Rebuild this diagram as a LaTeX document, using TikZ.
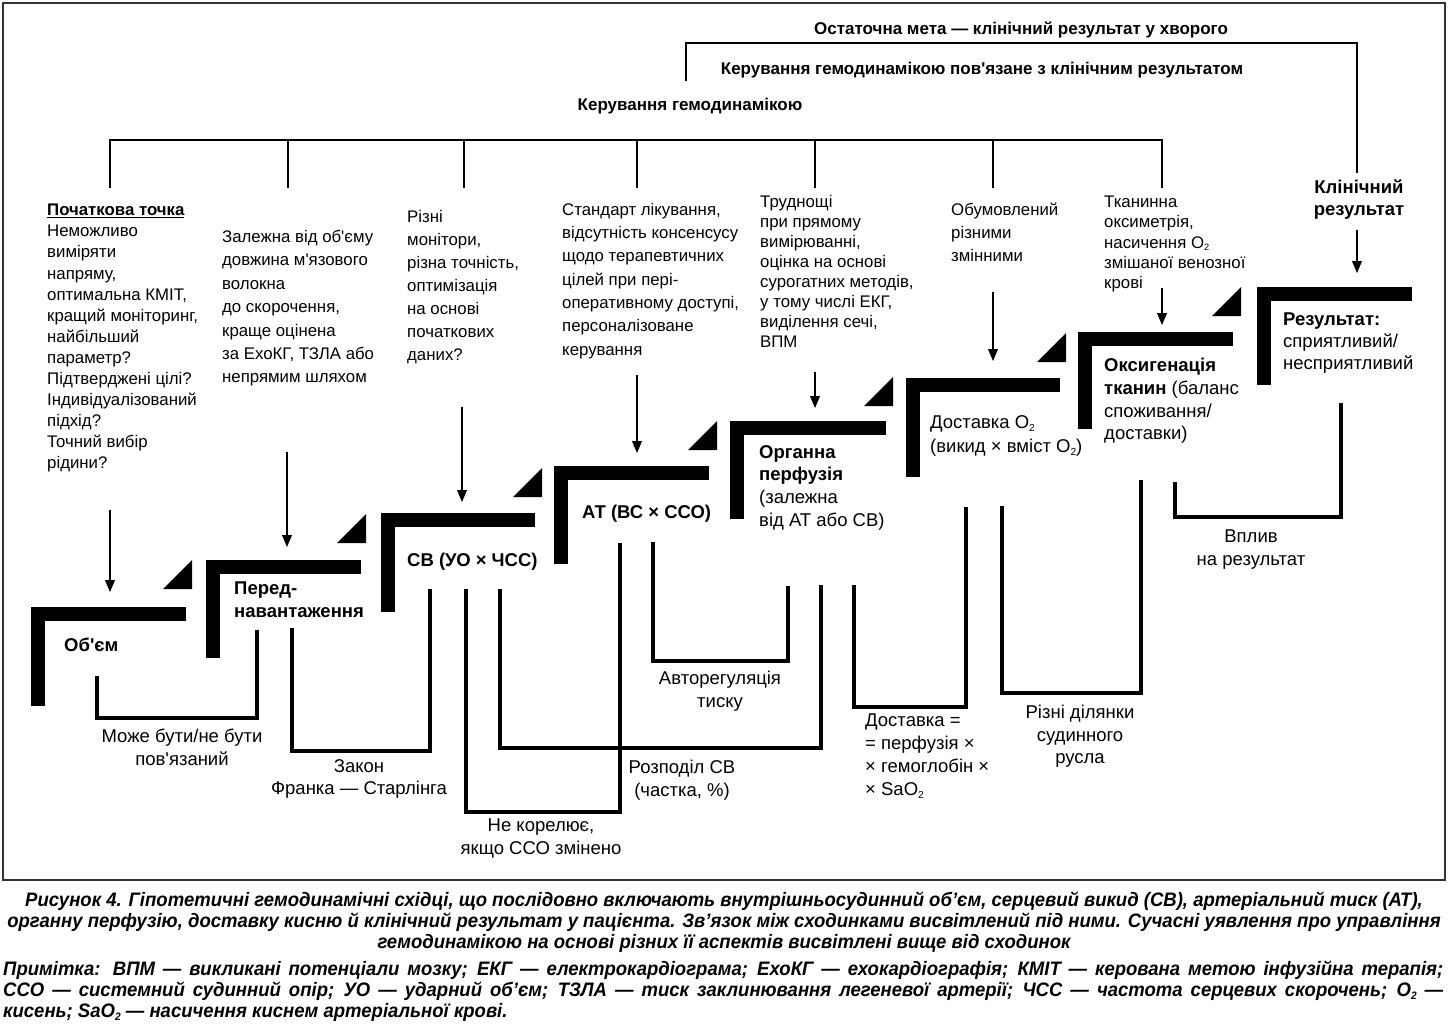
\documentclass[tikz,border=0pt]{standalone}
\usepackage{graphicx}
\usepackage{fontspec}
\setmainfont{Liberation Sans}
\newfontfamily\capfont[FakeStretch=0.95]{Liberation Sans}
\usetikzlibrary{arrows}
\newcommand{\apos}{\textquotesingle}
\newcommand{\subtwo}{\raisebox{-0.3ex}{\scalebox{0.55}{2}}}

\begin{document}
\begin{tikzpicture}[x=1pt,y=-1pt]

	\tikzstyle stair=[line width=14pt, line join=miter];
	\tikzstyle wedge=[fill=black];
	\tikzstyle top lines=[line width=2.6pt, line join=miter];
	\tikzstyle link lines=[line width=4pt, line join=miter];
	\tikzstyle arrow lines=[line width=1.8pt, -triangle 45];
	\tikzstyle col text=[anchor=north west, inner sep=0pt, align=left];
	\tikzstyle step text=[anchor=north west, inner sep=0pt, align=left, font=\fontsize{18.5}{22.7}\selectfont];
	\tikzstyle link text=[anchor=north, inner sep=0pt, align=center, font=\fontsize{18.5}{22.5}\selectfont];
	\tikzstyle head text=[inner sep=0pt, font=\fontsize{17}{20}\selectfont\bfseries];

	\useasboundingbox (0,0) rectangle (1448,1028);
	\draw[line width=1.2pt, black!80] (3,3) rectangle (1445,880);

	% headings above the stairs
	\node[head text] (goal) at (1021,30) {Остаточна мета — клінічний результат у хворого};
	\node[head text] (linked) at (982,70) {Керування гемодинамікою пов\apos{}язане з клінічним результатом};
	\node[head text] (manage) at (690,106) {Керування гемодинамікою};
	\draw[top lines] (686,81) -- (686,43) -- (1357,43) -- (1357,173);
	\draw[top lines] (110,188) -- (110,140) -- (1162,140) -- (1162,188);
	\draw[top lines] (288,140) -- (288,188);
	\draw[top lines] (464,140) -- (464,188);
	\draw[top lines] (637,140) -- (637,188);
	\draw[top lines] (815,140) -- (815,188);
	\draw[top lines] (993,140) -- (993,188);

	\node[col text, font=\fontsize{16.8}{21.1}\selectfont] (start) at (47,204) {\underline{\textbf{Початкова точка}}\\Неможливо\\виміряти\\напряму,\\оптимальна КМІТ,\\кращий моніторинг,\\найбільший\\параметр?\\Підтверджені цілі?\\Індивідуалізований\\підхід?\\Точний вибір\\рідини?};
	\node[col text, font=\fontsize{16.8}{23.4}\selectfont] (fibre) at (222,230) {Залежна від об\apos{}єму\\довжина м\apos{}язового\\волокна\\до скорочення,\\краще оцінена\\за ЕхоКГ, ТЗЛА або\\непрямим шляхом};
	\node[col text, font=\fontsize{16.8}{23}\selectfont] (monitors) at (407,210) {Різні\\монітори,\\різна точність,\\оптимізація\\на основі\\початкових\\даних?};
	\node[col text, font=\fontsize{16.8}{23.3}\selectfont] (standard) at (562,203) {Стандарт лікування,\\відсутність консенсусу\\щодо терапевтичних\\цілей при пері-\\оперативному доступі,\\персоналізоване\\керування};
	\node[col text, font=\fontsize{16.8}{20}\selectfont] (direct) at (760,195) {Труднощі\\при прямому\\вимірюванні,\\оцінка на основі\\сурогатних методів,\\у тому числі ЕКГ,\\виділення сечі,\\ВПМ};
	\node[col text, font=\fontsize{16.8}{23}\selectfont] (variables) at (951,203) {Обумовлений\\різними\\змінними};
	\node[col text, font=\fontsize{16.8}{20.2}\selectfont] (oximetry) at (1104,196) {Тканинна\\оксиметрія,\\насичення O\subtwo\\змішаної венозної\\крові};
	\node[anchor=north, inner sep=0pt, align=center, font=\fontsize{18.5}{22}\selectfont\bfseries] (clinical) at (1359,180) {Клінічний\\результат};

	\draw[arrow lines] (110,510) -- (110,592);
	\draw[arrow lines] (287,452) -- (287,547);
	\draw[arrow lines] (462,407) -- (462,502);
	\draw[arrow lines] (637,375) -- (637,453);
	\draw[arrow lines] (815,372) -- (815,408);
	\draw[arrow lines] (993,292) -- (993,361);
	\draw[arrow lines] (1162,288) -- (1162,325);
	\draw[arrow lines] (1357,230) -- (1357,273);

	% the stairs
	\draw[stair] (38,706) |- (186,614);
	\draw[stair] (213,658) |- (361,567);
	\draw[stair] (388,612) |- (535,520);
	\draw[stair] (561,564) |- (709,473);
	\draw[stair] (737,519) |- (886,428);
	\draw[stair] (913,477) |- (1060,385);
	\draw[stair] (1085,429) |- (1233,339);
	\draw[stair] (1264,385) |- (1412,294);

	\fill[wedge] (163,589) -- (192,589) -- (192,560) -- cycle;
	\fill[wedge] (337,543) -- (366,543) -- (366,514) -- cycle;
	\fill[wedge] (513,497) -- (542,497) -- (542,468) -- cycle;
	\fill[wedge] (688,450) -- (717,450) -- (717,421) -- cycle;
	\fill[wedge] (864,406) -- (893,406) -- (893,377) -- cycle;
	\fill[wedge] (1037,362) -- (1066,362) -- (1066,333) -- cycle;
	\fill[wedge] (1212,316) -- (1241,316) -- (1241,287) -- cycle;

	\node[step text] (volume) at (64,638) {\textbf{Об\apos{}єм}};
	\node[step text] (preload) at (234,582) {\textbf{Перед-}\\\textbf{навантаження}};
	\node[step text] (output) at (407,553) {\textbf{СВ (УО × ЧСС)}};
	\node[step text] (pressure) at (582,505) {\textbf{АТ (ВС × ССО)}};
	\node[step text] (perfusion) at (759,445) {\textbf{Органна}\\\textbf{перфузія}\\(залежна\\від АТ або СВ)};
	\node[step text, font=\fontsize{18.5}{24}\selectfont] (delivery) at (930,415) {Доставка O\subtwo\\(викид × вміст O\subtwo)};
	\node[step text] (oxygen) at (1104,358) {\textbf{Оксигенація}\\\textbf{тканин} (баланс\\споживання/\\доставки)};
	\node[step text, font=\fontsize{18.5}{22}\selectfont] (result) at (1283,313) {\textbf{Результат:}\\сприятливий/\\несприятливий};

	% links under the stairs
	\draw[link lines] (97,676) -- (97,718) -- (257,718) -- (257,630);
	\draw[link lines] (292,628) -- (292,751) -- (430,751) -- (430,589);
	\draw[link lines] (466,589) -- (466,812) -- (620,812) -- (620,543);
	\draw[link lines] (500,589) -- (500,748) -- (821,748) -- (821,585);
	\draw[link lines] (653,542) -- (653,661) -- (788,661) -- (788,586);
	\draw[link lines] (854,585) -- (854,707) -- (966,707) -- (966,507);
	\draw[link lines] (1002,506) -- (1002,693) -- (1141,693) -- (1141,480);
	\draw[link lines] (1175,482) -- (1175,517) -- (1341,517) -- (1341,403);

	\node[link text] (maybe) at (182,729) {Може бути/не бути\\пов\apos{}язаний};
	\node[link text] (starling) at (359,759) {Закон\\Франка — Старлінга};
	\node[link text] (nocorr) at (541,819) {Не корелює,\\якщо ССО змінено};
	\node[link text] (share) at (682,760) {Розподіл СВ\\(частка, \%)};
	\node[link text] (autoreg) at (720,671) {Авторегуляція\\тиску};
	\node[link text, anchor=north west, align=left, font=\fontsize{18.5}{23}\selectfont] (formula) at (865,714) {Доставка =\\= перфузія ×\\× гемоглобін ×\\× SaO\subtwo};
	\node[link text] (beds) at (1080,705) {Різні ділянки\\судинного\\русла};
	\node[link text, font=\fontsize{18.5}{23}\selectfont] (impact) at (1251,530) {Вплив\\на результат};

	% caption
	\node[anchor=north, inner sep=0pt, align=center, font=\capfont\bfseries\itshape\fontsize{19.5}{20.7}\selectfont] (caption) at (724,892) {Рисунок 4. Гіпотетичні гемодинамічні східці, що послідовно включають внутрішньосудинний об’єм, серцевий викид (СВ), артеріальний тиск (АТ),\\органну перфузію, доставку кисню й клінічний результат у пацієнта. Зв’язок між сходинками висвітлений під ними. Сучасні уявлення про управління\\гемодинамікою на основі різних її аспектів висвітлені вище від сходинок};
	\node[anchor=north west, inner sep=0pt, text width=1440pt, align=justify, font=\capfont\bfseries\itshape\fontsize{19.5}{21}\selectfont] (note) at (3,961) {Примітка: ВПМ — викликані потенціали мозку; ЕКГ — електрокардіограма; ЕхоКГ — ехокардіографія; КМІТ — керована метою інфузійна терапія;\linebreak ССО — системний судинний опір; УО — ударний об’єм; ТЗЛА — тиск заклинювання легеневої артерії; ЧСС — частота серцевих скорочень; O\subtwo{} —\linebreak кисень; SaO\subtwo{} — насичення киснем артеріальної крові.};

\end{tikzpicture}
\end{document}
